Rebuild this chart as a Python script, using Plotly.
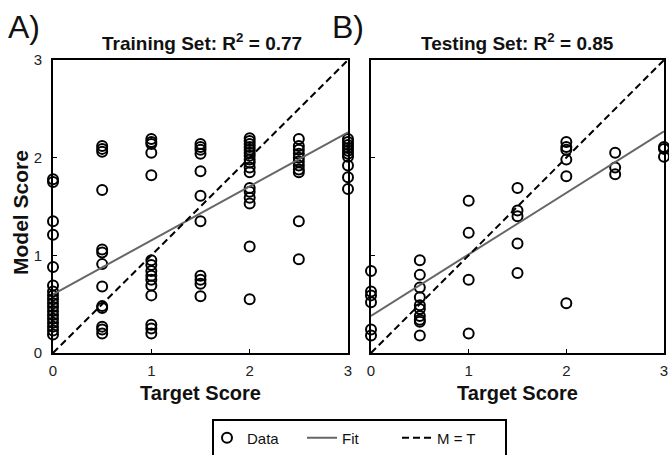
import plotly.graph_objects as go

# ---- data ----
target_levels = [0, 0.5, 1, 1.5, 2, 2.5, 3]

train_model_scores = [
    [1.78, 1.75, 1.35, 1.21, 0.88, 0.69, 0.63, 0.59, 0.55, 0.51, 0.47, 0.43, 0.39, 0.35, 0.31, 0.27, 0.23, 0.19],
    [2.12, 2.09, 2.06, 1.67, 1.06, 1.03, 0.91, 0.68, 0.48, 0.46, 0.27, 0.24, 0.20],
    [2.19, 2.16, 2.14, 2.05, 1.82, 0.95, 0.90, 0.84, 0.79, 0.75, 0.69, 0.59, 0.29, 0.25, 0.20],
    [2.14, 2.11, 2.08, 2.04, 1.86, 1.61, 1.35, 0.79, 0.75, 0.71, 0.58],
    [2.20, 2.17, 2.14, 2.11, 2.08, 2.05, 2.02, 1.98, 1.95, 1.90, 1.85, 1.69, 1.65, 1.59, 1.53, 1.09, 0.55],
    [2.19, 2.12, 2.08, 2.04, 2.00, 1.96, 1.92, 1.88, 1.85, 1.35, 0.96],
    [2.19, 2.16, 2.13, 2.10, 2.07, 2.04, 2.01, 1.92, 1.80, 1.68],
]

test_model_scores = [
    [0.84, 0.63, 0.59, 0.52, 0.24, 0.18],
    [0.95, 0.80, 0.67, 0.57, 0.49, 0.45, 0.38, 0.34, 0.32, 0.18],
    [1.56, 1.23, 0.75, 0.20],
    [1.69, 1.46, 1.40, 1.12, 0.82],
    [2.16, 2.11, 2.08, 1.98, 1.81, 0.51],
    [2.05, 1.90, 1.83],
    [2.11, 2.09, 2.01],
]

fit_x = [0, 3]
train_fit_y = [0.60, 2.26]
test_fit_y = [0.38, 2.27]
identity_x = [0, 3]
identity_y = [0, 3]

axis_ticks = [0, 1, 2, 3]
panel_titles = ["Training Set: R<sup>2</sup> = 0.77", "Testing Set: R<sup>2</sup> = 0.85"]
panel_letters = ["A)", "B)"]
x_title = "Target Score"
y_title = "Model Score"


def flatten(levels, groups):
    xs, ys = [], []
    for lv, g in zip(levels, groups):
        for v in g:
            xs.append(lv)
            ys.append(v)
    return xs, ys


W, H = 669, 455
FONT = "Liberation Sans, Arial, sans-serif"

fig = go.Figure()

panels = [
    ("x", "y", train_model_scores, train_fit_y),
    ("x2", "y2", test_model_scores, test_fit_y),
]
for i, (xa, ya, scores, fity) in enumerate(panels):
    xs, ys = flatten(target_levels, scores)
    fig.add_trace(go.Scatter(
        x=xs, y=ys, mode="markers", xaxis=xa, yaxis=ya, name="Data",
        showlegend=(i == 0), cliponaxis=False,
        marker=dict(symbol="circle-open", size=10, color="black", line=dict(width=2, color="black")),
    ))
    fig.add_trace(go.Scatter(
        x=fit_x, y=fity, mode="lines", xaxis=xa, yaxis=ya, name="Fit",
        showlegend=(i == 0), line=dict(color="#666666", width=2),
    ))
    fig.add_trace(go.Scatter(
        x=identity_x, y=identity_y, mode="lines", xaxis=xa, yaxis=ya, name="M = T",
        showlegend=(i == 0), line=dict(color="black", width=2, dash="7px,4px"),
    ))

ydom = [1 - 353 / H, 1 - 60 / H]
common_axis = dict(
    range=[0, 3], tickvals=axis_ticks, ticks="inside", ticklen=4, tickwidth=1,
    tickcolor="black", showline=True, linewidth=2, linecolor="black", mirror=True,
    showgrid=False, zeroline=False, automargin=False,
    tickfont=dict(family=FONT, size=15, color="#222"),
)
xtitle_font = dict(family=FONT, size=20, color="#111")
fig.update_layout(
    width=W, height=H,
    margin=dict(l=0, r=0, t=0, b=0, autoexpand=False),
    paper_bgcolor="white", plot_bgcolor="white",
    xaxis=dict(domain=[53 / W, 348 / W], anchor="y", **common_axis, ticklabelstandoff=3,
               title=dict(text=f"<b>{x_title}</b>", font=xtitle_font, standoff=8)),
    yaxis=dict(domain=ydom, anchor="x", **common_axis, ticklabelstandoff=6),
    xaxis2=dict(domain=[371 / W, 664 / W], anchor="y2", **common_axis, ticklabelstandoff=3,
                title=dict(text=f"<b>{x_title}</b>", font=xtitle_font, standoff=8)),
    yaxis2=dict(domain=ydom, anchor="x2", **common_axis, showticklabels=False),
    legend=dict(
        orientation="h", x=207 / W, y=1 - 438 / H, xanchor="left", yanchor="middle",
        borderwidth=0, bgcolor="rgba(0,0,0,0)",
        font=dict(family=FONT, size=15, color="#111"),
        entrywidth=50, itemwidth=30, tracegroupgap=0,
    ),
    showlegend=True,
    shapes=[dict(type="rect", xref="paper", yref="paper",
                 x0=213 / W, x1=506 / W, y0=-0.05, y1=1 - 420 / H,
                 line=dict(color="black", width=2), fillcolor="rgba(0,0,0,0)", layer="below")],
)

annotations = [
    dict(text=f"<b>{panel_titles[0]}</b>", x=202 / W, y=1 - 42 / H, xref="paper", yref="paper",
         showarrow=False, font=dict(family=FONT, size=19, color="#111"), xanchor="center", yanchor="middle"),
    dict(text=f"<b>{panel_titles[1]}</b>", x=517 / W, y=1 - 42 / H, xref="paper", yref="paper",
         showarrow=False, font=dict(family=FONT, size=19, color="#111"), xanchor="center", yanchor="middle"),
    dict(text=panel_letters[0], x=6 / W, y=1 - 27 / H, xref="paper", yref="paper",
         showarrow=False, font=dict(family=FONT, size=32, color="#111"), xanchor="left", yanchor="middle"),
    dict(text=panel_letters[1], x=330 / W, y=1 - 27 / H, xref="paper", yref="paper",
         showarrow=False, font=dict(family=FONT, size=32, color="#111"), xanchor="left", yanchor="middle"),
    dict(text=f"<b>{y_title}</b>", x=20 / W, y=1 - 213 / H, xref="paper", yref="paper", textangle=-90,
         showarrow=False, font=dict(family=FONT, size=21, color="#111"), xanchor="center", yanchor="middle"),
]
fig.update_layout(annotations=annotations)

fig.write_html("out.html")
